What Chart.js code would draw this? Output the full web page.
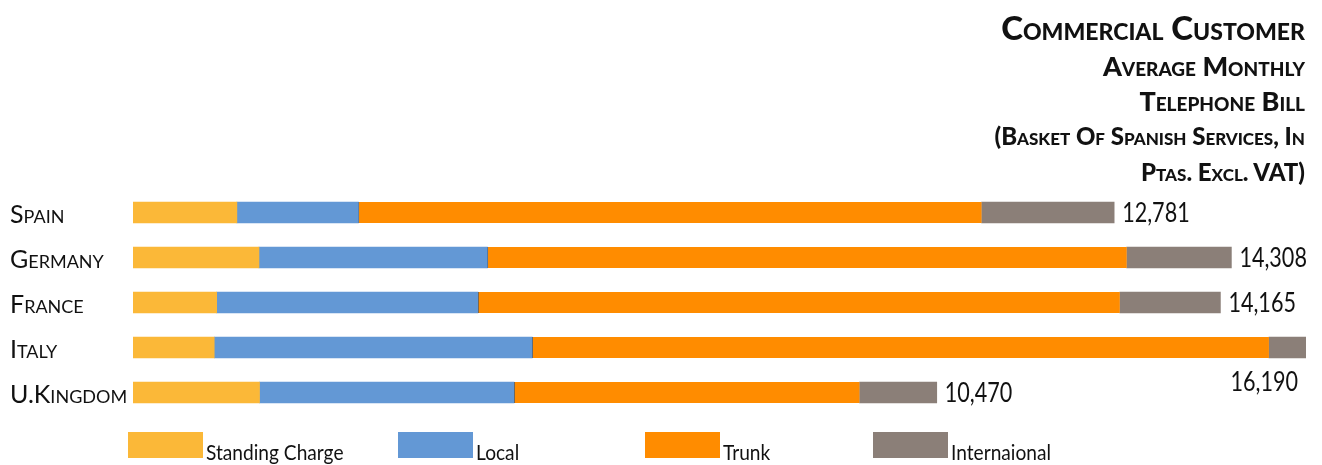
<!DOCTYPE html>
<html>
<head>
<meta charset="utf-8">
<title>Commercial Customer Average Monthly Telephone Bill</title>
<script src="https://cdn.jsdelivr.net/npm/chart.js@4.4.0/dist/chart.umd.min.js"></script>
<style>
  html, body { margin: 0; padding: 0; background: #fff; }
  #wrap { position: relative; width: 1322px; height: 465px; overflow: hidden; }
  #billChart { position: absolute; left: 0; top: 0; }
  #title {
    position: absolute; right: 17px; top: 6px; text-align: right;
    font-family: Lato, "DejaVu Sans", sans-serif; font-weight: 900;
    font-variant: small-caps; color: #111;
  }
  #title .l1 { font-size: 33px; line-height: 42px; }
  #title .l2 { font-size: 27px; line-height: 35px; }
  #title .l3 { font-size: 24px; line-height: 36px; }
  #legend { position: absolute; left: 0; top: 432px; width: 1322px; height: 33px; }
  .item { position: absolute; top: 0; display: flex; align-items: flex-end; }
  .item .box { width: 75px; height: 26px; margin-right: 3px; }
  .item span {
    font-family: Lato, sans-serif; font-size: 22px; line-height: 22px; color: #111;
    margin-bottom: -5px; display: inline-block; transform: scaleX(0.87); transform-origin: left center;
  }
</style>
</head>
<body>
<div id="wrap">
  <canvas id="billChart" width="1322" height="465"></canvas>
  <div id="title">
    <div class="l1">Commercial Customer</div>
    <div class="l2">Average Monthly</div>
    <div class="l2">Telephone Bill</div>
    <div class="l3">(Basket Of Spanish Services, In</div>
    <div class="l3">Ptas. Excl. VAT)</div>
  </div>
  <div id="legend"></div>
</div>
<script>
// Countries, top to bottom
const countries = ["Spain", "Germany", "France", "Italy", "U.Kingdom"];

// Bill components in pesetas per month
const standingCharge = [1353, 1641, 1090, 1058, 1648];
const local = [1583, 2975, 3403, 4142, 3315];
const trunk = [8118, 8328, 8361, 9597, 4501];
const international = [1727, 1364, 1311, 1393, 1006];

// Totals printed at the end of each bar
const totals = [12781, 14308, 14165, 16190, 10470];

const seriesNames = ["Standing Charge", "Local", "Trunk", "Internaional"];
const seriesColors = ["#fbb838", "#6398d5", "#ff8c00", "#8b7f78"];
const legendLeft = [128, 398, 645, 873];

const datasets = [standingCharge, local, trunk, international].map((values, i) => ({
  label: seriesNames[i],
  data: values,
  backgroundColor: seriesColors[i],
  // thin dark seam where local meets trunk
  borderColor: "#333",
  borderWidth: i === 2 ? { left: 1, right: 0, top: 0, bottom: 0 } : 0,
  borderSkipped: false,
  barThickness: 21,
  clip: 0
}));

// category names in small caps down the left side
const countryLabels = {
  id: "countryLabels",
  afterDraw(chart) {
    const { ctx, scales } = chart;
    ctx.save();
    ctx.font = "small-caps 400 25px Lato, sans-serif";
    ctx.fontVariantCaps = "small-caps";
    ctx.fillStyle = "#111";
    ctx.textAlign = "left";
    ctx.textBaseline = "middle";
    countries.forEach((name, i) => {
      ctx.fillText(name, 10, scales.y.getPixelForValue(i) + 2);
    });
    ctx.restore();
  }
};

// total at the end of each bar; a bar running past the edge gets it underneath
const totalLabels = {
  id: "totalLabels",
  afterDatasetsDraw(chart) {
    const { ctx, scales, chartArea } = chart;
    const squeeze = 0.8;
    ctx.save();
    ctx.font = "27px Lato, sans-serif";
    ctx.fillStyle = "#111";
    ctx.textBaseline = "middle";
    totals.forEach((t, i) => {
      const text = t.toLocaleString("en-US");
      const x = scales.x.getPixelForValue(t);
      const y = scales.y.getPixelForValue(i);
      const w = ctx.measureText(text).width * squeeze;
      const left = x > chartArea.right ? chartArea.right - 8 - w : x + 8;
      const top = x > chartArea.right ? y + 35 : y + 1;
      ctx.save();
      ctx.translate(left, top);
      ctx.scale(squeeze, 1);
      ctx.textAlign = "left";
      ctx.fillText(text, 0, 0);
      ctx.restore();
    });
    ctx.restore();
  }
};

new Chart(document.getElementById("billChart"), {
  type: "bar",
  data: { labels: countries, datasets: datasets },
  options: {
    indexAxis: "y",
    responsive: false,
    animation: false,
    layout: { padding: { left: 133, right: 16, top: 190, bottom: 50 } },
    plugins: { legend: { display: false }, tooltip: { enabled: false } },
    scales: {
      x: { stacked: true, min: 0, max: 15280, display: false },
      y: { stacked: true, display: false }
    }
  },
  plugins: [countryLabels, totalLabels]
});

// legend row under the bars
const legend = document.getElementById("legend");
seriesNames.forEach((name, i) => {
  const item = document.createElement("div");
  item.className = "item";
  item.style.left = legendLeft[i] + "px";
  item.innerHTML = '<div class="box" style="background:' + seriesColors[i] + '"></div><span>' + name + "</span>";
  legend.appendChild(item);
});
</script>
</body>
</html>
